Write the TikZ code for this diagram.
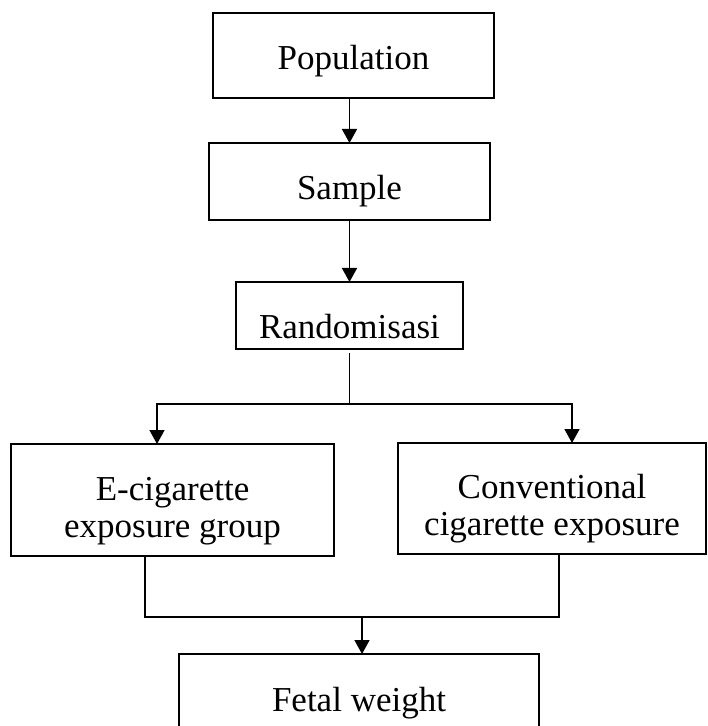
\documentclass[tikz,border=0pt]{standalone}
\usepackage{fontspec}
\setmainfont{Liberation Serif}
\usetikzlibrary{arrows.meta,calc,positioning}
\tikzset{
  flowbox/.style={draw=black, line width=0.8pt, inner sep=0pt, outer sep=0pt,
                  align=center, font=\fontsize{17.5}{18.5}\selectfont},
  capdrop/.style={text height=#1, text depth=0pt},
  flowline/.style={draw=black, line width=0.8pt},
  flowarrow/.style={flowline, -{Triangle[width=7.5pt,length=7pt]}}
}

\begin{document}
\begin{tikzpicture}[x=0.5pt, y=-0.5pt]
\useasboundingbox (0,0) rectangle (707,726);

% top chain
\node[flowbox, minimum width=140.5pt, minimum height=42.5pt, capdrop=14.3pt] (pop) at (353.5,55.5) {Population};
\node[flowbox, minimum width=140.5pt, minimum height=38.5pt, capdrop=18.4pt] (samp) at (349.5,181.5) {Sample};
\node[flowbox, minimum width=113.5pt, minimum height=33.5pt, capdrop=22.6pt] (rand) at (349.5,315.5) {Randomisasi};

% the two groups
\node[flowbox, minimum width=161.5pt, minimum height=56pt, capdrop=37pt] (ecig) at (172.5,500) {E-cigarette\\exposure group};
\node[flowbox, minimum width=154pt, minimum height=55.5pt, capdrop=36.5pt] (conv) at (552,498.5) {Conventional\\cigarette exposure};

% outcome
\node[flowbox, minimum width=180pt, minimum height=46pt, capdrop=11.6pt] (fetal) at (359,700) {Fetal weight};

% split and join points
\coordinate (split) at (349.5,404);
\coordinate (toE) at (157,404);
\coordinate (toC) at (572,404);
\coordinate (mL) at (145,617);
\coordinate (mR) at (559,617);
\coordinate (join) at (362,617);

\draw[flowarrow] (samp.north |- pop.south) -- (samp.north);
\draw[flowarrow] (samp.south) -- (rand.north);
\draw[flowarrow] ([yshift=-2pt]rand.south) -- (split) -| (toE |- ecig.north);
\draw[flowarrow] (split) -| (toC |- conv.north);
\draw[flowline] (mL |- ecig.south) -- (mL) -- (mR) -- (mR |- conv.south);
\draw[flowarrow] (join) -- (join |- fetal.north);

\end{tikzpicture}
\end{document}
